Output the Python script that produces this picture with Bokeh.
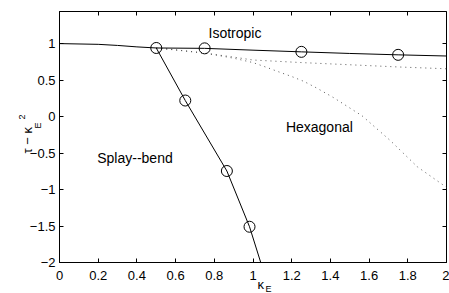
from bokeh.plotting import figure
from bokeh.models import Range1d, FixedTicker, LinearAxis, Label, Title, CustomLabelingPolicy
from bokeh.embed import file_html
from bokeh.resources import INLINE

# ---- data ----
iso_x = [0.0, 0.2, 0.3, 0.4, 0.5, 0.75, 1.0, 1.25, 1.5, 1.75, 2.0]
iso_y = [1.0, 0.99, 0.975, 0.955, 0.94, 0.935, 0.91, 0.887, 0.865, 0.846, 0.83]

sb_x = [0.5, 0.65, 0.865, 0.982, 1.04]
sb_y = [0.94, 0.22, -0.746, -1.51, -2.0]

hexA_x = [0.5, 0.6, 0.75, 0.9, 1.0, 1.25, 1.5, 1.75, 2.0]
hexA_y = [0.94, 0.915, 0.87, 0.815, 0.775, 0.74, 0.71, 0.68, 0.655]

hexB_x = [0.5, 0.75, 0.9, 1.0, 1.073, 1.142, 1.203, 1.263, 1.33, 1.416, 1.564, 1.71, 1.85, 2.0]
hexB_y = [0.94, 0.87, 0.8, 0.74, 0.672, 0.604, 0.546, 0.482, 0.39, 0.26, 0.01, -0.33, -0.69, -0.97]

circ_x = [0.5, 0.75, 1.25, 1.75, 0.65, 0.865, 0.982]
circ_y = [0.94, 0.935, 0.887, 0.846, 0.22, -0.746, -1.51]

x_ticks = [0, 0.2, 0.4, 0.6, 0.8, 1, 1.2, 1.4, 1.6, 1.8, 2]
x_tick_labels = ["0", "0.2", "0.4", "0.6", "0.8", "1", "1.2", "1.4", "1.6", "1.8", "2"]
y_ticks = [-2, -1.5, -1, -0.5, 0, 0.5, 1]
y_tick_labels = ["\u22122", "\u22121.5", "\u22121", "\u22120.5", "0", "0.5", "1"]

region_labels = ["Isotropic", "Hexagonal", "Splay--bend"]
region_x = [0.77, 1.17, 0.195]
region_y = [1.14, -0.14, -0.565]

FONT = "Liberation Sans"

p = figure(width=449, height=293, output_backend="svg", toolbar_location=None,
           x_range=Range1d(0, 2), y_range=Range1d(-2, 1.44),
           min_border_left=59, min_border_right=3, min_border_top=11, min_border_bottom=31)
p.background_fill_color = "white"
p.border_fill_color = "white"
p.xgrid.grid_line_color = None
p.ygrid.grid_line_color = None
p.outline_line_color = "black"
p.outline_line_alpha = 1
p.outline_line_width = 1

hide_all = CustomLabelingPolicy(code="""
for (let i = 0; i < indices.size; i++) { indices.unset(i) }
return indices
""")

def style_axis(ax, ticks, labels, show_labels=True, standoff=5):
    ax.ticker = FixedTicker(ticks=ticks)
    ax.major_label_overrides = {t: l for t, l in zip(ticks, labels)}
    ax.major_tick_in = 4
    ax.major_tick_out = 0
    ax.minor_tick_line_color = None
    ax.major_tick_line_color = "black"
    ax.axis_line_color = "black"
    ax.major_label_text_font = FONT
    ax.major_label_text_color = "black"
    if show_labels:
        ax.major_label_text_font_size = "13px"
        ax.major_label_standoff = standoff
    else:
        ax.major_label_text_font_size = "0px"
        ax.major_label_standoff = 0
        ax.major_label_policy = hide_all

style_axis(p.xaxis[0], x_ticks, x_tick_labels, True, 8)
style_axis(p.yaxis[0], y_ticks, y_tick_labels, True, 4)

top = LinearAxis()
style_axis(top, x_ticks, x_tick_labels, False)
top.axis_line_color = None
p.add_layout(top, "above")
right = LinearAxis()
style_axis(right, y_ticks, y_tick_labels, False)
right.axis_line_color = None
p.add_layout(right, "right")

# lines
p.line(hexA_x, hexA_y, line_color="#555555", line_width=1, line_dash="1 4")
p.line(hexB_x, hexB_y, line_color="#555555", line_width=1, line_dash="1 4")
p.line(iso_x, iso_y, line_color="black", line_width=1)
p.line(sb_x, sb_y, line_color="black", line_width=1)
p.scatter(circ_x, circ_y, marker="circle", size=11, fill_color=None,
          line_color="black", line_width=1)

for t, x, y in zip(region_labels, region_x, region_y):
    p.add_layout(Label(x=x, y=y, text=t, text_font=FONT, text_font_size="14px",
                       text_color="black", text_align="left", text_baseline="alphabetic"))

def side_title(text, size, align, valign, offset, standoff):
    return Title(text=text, text_font=FONT, text_font_size=size, text_font_style="normal",
                 text_color="black", align=align, vertical_align=valign,
                 offset=offset, standoff=standoff)

# y axis label: tau - kappa_E^2 (stacked outward from the axis)
p.add_layout(side_title("E", "9px", "left", "bottom", 134, -32), "left")
p.add_layout(side_title("\u03c4 \u2212 \u03ba", "13px", "left", "bottom", 109, -17), "left")
p.add_layout(side_title("2", "9px", "left", "bottom", 143, 4), "left")

# x axis label: kappa_E
p.add_layout(side_title("\u03ba", "13px", "left", "bottom", 198, -19), "below")
p.add_layout(side_title("E", "9px", "left", "bottom", 206, -22), "below")

open("out.html", "w").write(file_html(p, INLINE))
